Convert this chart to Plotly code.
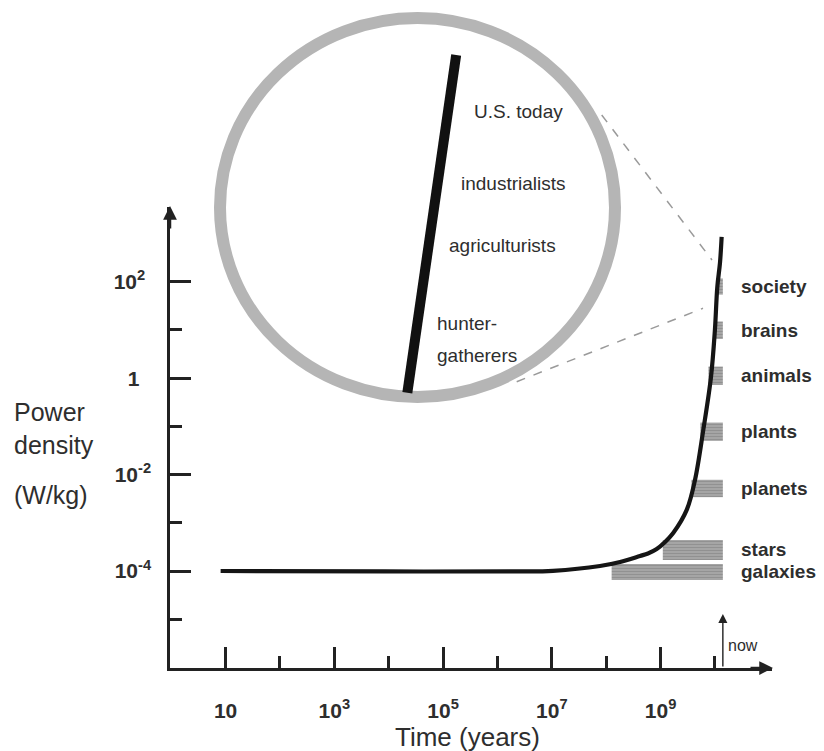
import math
import plotly.graph_objects as go

W, H = 824, 751
FONT = "Liberation Sans, Arial, Helvetica, sans-serif"
INK = "#222222"
TXT = "#2e2e2e"

# ---------------- data ----------------
# main curve: power density (W/kg) versus time (years)
curve_years = [8.1, 8.55e3, 2.39e6, 1.05e7, 7.7e7, 1.8e8, 4.19e8, 5.87e8, 8.49e8, 1.21e9,
               1.71e9, 3.03e9, 4.30e9, 6.11e9, 8.47e9, 1.0e10, 1.107e10, 1.239e10, 1.33e10]
curve_power = [1.0e-4, 9.8e-5, 9.8e-5, 1.01e-4, 1.27e-4, 1.54e-4, 2.05e-4, 2.31e-4, 2.86e-4, 4.0e-4,
               6.14e-4, 1.85e-3, 7.73e-3, 8.41e-2, 1.06, 10.0, 78.0, 245.0, 849.0]

# ranges for each kind of system (start time -> now, power-density band)
box_names = ["galaxies", "stars", "planets", "plants", "animals", "brains", "society"]
box_start = [1.26e8, 1.1e9, 3.7e9, 5.4e9, 7.6e9, 1.0e10, 1.12e10]
box_low = [6.5e-5, 1.7e-4, 3.4e-3, 0.05, 0.72, 6.5, 54.0]
box_high = [1.4e-4, 4.4e-4, 7.8e-3, 0.12, 1.74, 15.0, 117.0]
now_year = 1.4e10

# axis ticks
x_major = [10, 1e3, 1e5, 1e7, 1e9]
x_major_text = ["10", "10<sup>3</sup>", "10<sup>5</sup>", "10<sup>7</sup>", "10<sup>9</sup>"]
x_minor = [1e2, 1e4, 1e6, 1e8, 1e10]
y_major = [1e2, 1, 1e-2, 1e-4]
y_major_text = ["10<sup>2</sup>\u00a0", "1\u00a0\u00a0", "10<sup>-2</sup>", "10<sup>-4</sup>"]
y_minor = [1e1, 1e-1, 1e-3, 1e-5]

# magnified inset: human societies
inset_x = [47.5, 59.5]
inset_power = [1.22, 865.0]
inset_labels = ["U.S. today", "industrialists", "agriculturists", "hunter-", "gatherers"]
inset_label_x = [63.3, 60.2, 57.2, 54.3, 54.3]
inset_label_power = [287.0, 71.5, 21.5, 4.7, 2.54]

# ---------------- figure ----------------
fig = go.Figure()

for name, x0, lo, hi in zip(box_names, box_start, box_low, box_high):
    fig.add_trace(go.Scatter(
        x=[x0, now_year, now_year, x0, x0], y=[lo, lo, hi, hi, lo],
        mode="lines", fill="toself", line=dict(width=0),
        fillcolor="#a0a0a0",
        fillpattern=dict(shape="-", bgcolor="#a8a8a8", fgcolor="#7a7a7a", size=3, solidity=0.4),
        hoverinfo="skip", xaxis="x", yaxis="y"))

fig.add_trace(go.Scatter(
    x=curve_years, y=curve_power, mode="lines",
    line=dict(color="#151515", width=4.2, shape="spline", smoothing=1.0),
    xaxis="x", yaxis="y"))

fig.add_trace(go.Scatter(
    x=inset_x, y=inset_power, mode="lines",
    line=dict(color="#111111", width=10),
    xaxis="x2", yaxis="y2"))

px = lambda v: v / W
py = lambda v: 1 - v / H

annotations = []
# category labels
for name, lo, hi in zip(box_names, box_low, box_high):
    annotations.append(dict(
        x=math.log10(now_year), y=(math.log10(lo) + math.log10(hi)) / 2,
        xref="x", yref="y", text=name, showarrow=False, xanchor="left", yanchor="middle",
        xshift=16, font=dict(family=FONT, size=19, color=TXT, weight="bold")))
# inset labels
for t, xv, pv in zip(inset_labels, inset_label_x, inset_label_power):
    annotations.append(dict(
        x=xv, y=math.log10(pv), xref="x2", yref="y2", text=t, showarrow=False,
        xanchor="left", yanchor="middle", font=dict(family=FONT, size=19, color=TXT)))
# y axis title (three lines)
for t, yy in [("Power", 411.7), ("density", 445), ("(W/kg)", 495)]:
    annotations.append(dict(
        x=px(12), y=py(yy), xref="paper", yref="paper", text=t, showarrow=False,
        xanchor="left", yanchor="middle", font=dict(family=FONT, size=25, color=TXT)))
# x axis title
annotations.append(dict(
    x=px(467), y=py(737), xref="paper", yref="paper", text="Time (years)", showarrow=False,
    xanchor="center", yanchor="middle", font=dict(family=FONT, size=26, color=TXT)))
# axis arrowheads
annotations.append(dict(x=px(170), y=py(206), xref="paper", yref="paper", text="",
                        showarrow=True, ax=0, ay=24, arrowhead=2, arrowsize=1.1,
                        arrowwidth=2.5, arrowcolor=INK))
annotations.append(dict(x=px(773), y=py(668), xref="paper", yref="paper", text="",
                        showarrow=True, ax=-24, ay=0, arrowhead=2, arrowsize=1.1,
                        arrowwidth=2.5, arrowcolor=INK))
# "now" marker
annotations.append(dict(x=math.log10(now_year), y=py(614), xref="x", yref="paper", text="",
                        showarrow=True, ax=0, ay=54, arrowhead=2, arrowsize=1.3,
                        arrowwidth=1.4, arrowcolor=INK))
annotations.append(dict(x=math.log10(now_year), y=py(645), xref="x", yref="paper", text="now",
                        showarrow=False, xanchor="left", yanchor="middle", xshift=3,
                        font=dict(family=FONT, size=16, color=TXT)))

shapes = [
    dict(type="circle", xref="paper", yref="paper", x0=px(220), x1=px(615),
         y0=py(397), y1=py(18), line=dict(color="#b5b5b5", width=12), layer="below"),
    dict(type="line", xref="paper", yref="paper", x0=px(601.7), y0=py(115),
         x1=px(712), y1=py(260), line=dict(color="#9a9a9a", width=1.5, dash="dash")),
    dict(type="line", xref="paper", yref="paper", x0=px(516.7), y0=py(381.7),
         x1=px(703), y1=py(308.3), line=dict(color="#9a9a9a", width=1.5, dash="dash")),
]

tickfont = dict(family=FONT, size=21, color=TXT, weight="bold")

fig.update_layout(
    width=W, height=H, margin=dict(l=0, r=0, t=0, b=0),
    paper_bgcolor="white", plot_bgcolor="rgba(0,0,0,0)", showlegend=False,
    xaxis=dict(type="log", range=[-0.0226, 11.05], domain=[px(170), px(772)], anchor="y",
               showline=True, linecolor=INK, linewidth=2.5, showgrid=False, zeroline=False,
               ticks="inside", ticklen=21, tickwidth=2.5, tickcolor=INK,
               tickmode="array", tickvals=x_major, ticktext=x_major_text,
               tickfont=tickfont, ticklabelstandoff=22,
               minor=dict(tickmode="array", tickvals=x_minor, ticks="inside",
                          ticklen=12, tickwidth=2.5, tickcolor=INK, showgrid=False)),
    yaxis=dict(type="log", range=[-6.012, 3.55], domain=[py(668), py(207)], anchor="x",
               showline=True, linecolor=INK, linewidth=2.5, showgrid=False, zeroline=False,
               ticks="inside", ticklen=21, tickwidth=2.5, tickcolor=INK,
               tickmode="array", tickvals=y_major, ticktext=y_major_text,
               tickfont=tickfont, ticklabelstandoff=12,
               minor=dict(tickmode="array", tickvals=y_minor, ticks="inside",
                          ticklen=12, tickwidth=2.5, tickcolor=INK, showgrid=False)),
    xaxis2=dict(range=[0, 100], domain=[px(214), px(621)], anchor="y2", visible=False),
    yaxis2=dict(type="log", range=[0, 3.3], domain=[py(403), py(12)], anchor="x2", visible=False),
    annotations=annotations, shapes=shapes,
)

fig.write_html("out.html", config={"displayModeBar": False},
               post_script="document.body.style.margin='0';document.body.style.overflow='hidden';")
